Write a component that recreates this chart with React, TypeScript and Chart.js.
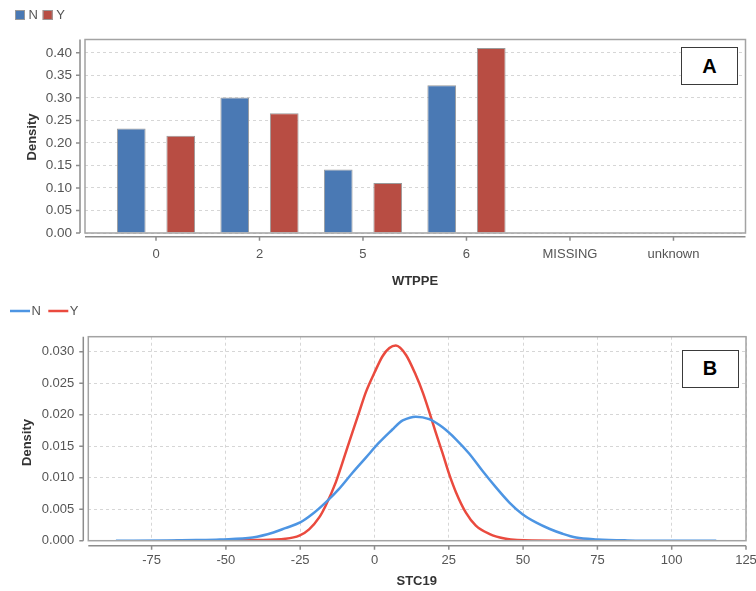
import React, { useEffect, useRef } from 'react';
import { Chart, registerables } from 'chart.js';

Chart.register(...registerables);

// ---------- Chart A data (WTPPE) ----------
const wtppeCategories = ['0', '2', '5', '6', 'MISSING', 'unknown'];
const wtppeN = [0.232, 0.301, 0.141, 0.328, null, null];
const wtppeY = [0.216, 0.266, 0.111, 0.411, null, null];
const wtppeYTicks = [0, 0.05, 0.1, 0.15, 0.2, 0.25, 0.3, 0.35, 0.4];

// ---------- Chart B data (STC19 density) ----------
const stcNx = [-87, -70, -60, -52, -41, -34, -30, -25, -21, -16.4, -12, -7.4, -2.9, 1.6, 6.1, 8.3, 9.5, 13.9, 18.4, 22.9, 27.4, 31.9, 36.3, 40.8, 45.3, 49.8, 54.3, 58.8, 63.3, 67.8, 75, 85, 100, 115];
const stcNy = [0, 0.00003, 0.0001, 0.0002, 0.0005, 0.0013, 0.002, 0.0029, 0.0042, 0.0061, 0.0082, 0.0108, 0.0132, 0.0156, 0.0177, 0.0187, 0.0191, 0.0197, 0.0193, 0.018, 0.0161, 0.0138, 0.0111, 0.0085, 0.0061, 0.0042, 0.0029, 0.0019, 0.0011, 0.0005, 0.0002, 0.00005, 0, 0];
const stcYx = [-67, -50, -40, -30, -25.3, -22, -18.6, -16.4, -13, -9.6, -7.3, -5.1, -2.9, 0, 2.7, 5, 7.2, 10.6, 13.9, 16.2, 18.4, 20.6, 22.9, 25.1, 27.4, 30.7, 34.1, 38.6, 44.2, 48, 60, 82];
const stcYy = [0, 0.00002, 0.0001, 0.0003, 0.0008, 0.0018, 0.0037, 0.0056, 0.0093, 0.0141, 0.0174, 0.0205, 0.0236, 0.0267, 0.0293, 0.0306, 0.031, 0.0295, 0.0263, 0.0236, 0.0205, 0.0172, 0.0139, 0.0106, 0.0077, 0.0045, 0.0024, 0.0011, 0.0003, 0.0001, 0, 0];
const stcXTicks = [-75, -50, -25, 0, 25, 50, 75, 100, 125];
const stcYTicks = [0, 0.005, 0.01, 0.015, 0.02, 0.025, 0.03];

const FONT = "'Liberation Sans', Arial, sans-serif";

type LegendItem = { label: string; color: string; kind: 'box' | 'line' };

function decorPlugin(cfg: {
  yGap: number;
  xGap: number;
  yTitle: string;
  yTitlePos: [number, number];
  xTitle: string;
  xTitlePos: [number, number];
  legend: LegendItem[];
  legendPos: number[];
  legendY: number;
}) {
  return {
    id: 'decor',
    afterDraw(chart: any) {
      const { ctx, chartArea: a, scales } = chart;
      ctx.save();
      // plot outline
      ctx.strokeStyle = '#a3a3a3';
      ctx.lineWidth = 1.5;
      ctx.strokeRect(a.left, a.top, a.right - a.left, a.bottom - a.top);
      // offset axes
      ctx.strokeStyle = '#8c8c8c';
      ctx.lineWidth = 1.5;
      const yx = a.left - cfg.yGap;
      ctx.beginPath();
      ctx.moveTo(yx, a.top);
      ctx.lineTo(yx, a.bottom);
      scales.y.ticks.forEach((t: any) => {
        const py = scales.y.getPixelForValue(t.value);
        ctx.moveTo(yx - 4, py);
        ctx.lineTo(yx, py);
      });
      const xy = a.bottom + cfg.xGap;
      ctx.moveTo(a.left, xy);
      ctx.lineTo(a.right, xy);
      scales.x.ticks.forEach((t: any) => {
        const px = scales.x.getPixelForValue(t.value);
        ctx.moveTo(px, xy);
        ctx.lineTo(px, xy + 4);
      });
      ctx.stroke();
      // titles
      ctx.fillStyle = '#333';
      ctx.font = `bold 13px ${FONT}`;
      ctx.textAlign = 'center';
      ctx.textBaseline = 'middle';
      ctx.fillText(cfg.xTitle, cfg.xTitlePos[0], cfg.xTitlePos[1]);
      ctx.save();
      ctx.translate(cfg.yTitlePos[0], cfg.yTitlePos[1]);
      ctx.rotate(-Math.PI / 2);
      ctx.fillText(cfg.yTitle, 0, 0);
      ctx.restore();
      // legend
      ctx.font = `13px ${FONT}`;
      ctx.textAlign = 'left';
      cfg.legend.forEach((item, i) => {
        const x = cfg.legendPos[i];
        const y = cfg.legendY;
        if (item.kind === 'box') {
          ctx.fillStyle = item.color;
          ctx.fillRect(x, y - 5, 10, 10);
          ctx.strokeStyle = '#999';
          ctx.lineWidth = 1;
          ctx.strokeRect(x + 0.5, y - 4.5, 9, 9);
          ctx.fillStyle = '#555';
          ctx.fillText(item.label, x + 13.5, y + 0.5);
        } else {
          ctx.strokeStyle = item.color;
          ctx.lineWidth = 2.5;
          ctx.beginPath();
          ctx.moveTo(x, y);
          ctx.lineTo(x + 20, y);
          ctx.stroke();
          ctx.fillStyle = '#555';
          ctx.fillText(item.label, x + 21.5, y + 0.5);
        }
      });
      ctx.restore();
    },
  };
}

const BAR_BLUE = '#4a79b4';
const BAR_RED = '#b84d43';
const LINE_BLUE = '#4d95e3';
const LINE_RED = '#ea4a3e';

function BarChartA() {
  const ref = useRef<HTMLCanvasElement>(null);
  useEffect(() => {
    const chart = new Chart(ref.current as HTMLCanvasElement, {
      type: 'bar',
      data: {
        datasets: [
          {
            label: 'N',
            data: wtppeN.map((v, i) => ({ x: i, y: v })) as any,
            backgroundColor: BAR_BLUE,
            borderColor: '#9a9a9a',
            borderWidth: 1,
            categoryPercentage: 0.9565,
            barPercentage: 0.58,
          },
          {
            label: 'Y',
            data: wtppeY.map((v, i) => ({ x: i, y: v })) as any,
            backgroundColor: BAR_RED,
            borderColor: '#9a9a9a',
            borderWidth: 1,
            categoryPercentage: 0.9565,
            barPercentage: 0.58,
          },
        ],
      },
      options: {
        responsive: false,
        animation: false,
        devicePixelRatio: 1,
        layout: { padding: { top: 39.5, right: 10.5, left: 0, bottom: 0 } },
        plugins: { legend: { display: false }, tooltip: { enabled: false } },
        scales: {
          x: {
            type: 'linear',
            offset: false,
            min: -0.686,
            max: 5.696,
            afterFit: (s: any) => {
              s.height = 67;
              s.paddingLeft = 0;
              s.paddingRight = 0;
            },
            afterBuildTicks: (s: any) => {
              s.ticks = wtppeCategories.map((_, i) => ({ value: i }));
            },
            grid: { display: false, drawTicks: false },
            border: { display: false },
            ticks: {
              callback: (v: any) => wtppeCategories[v] ?? '',
              font: { family: FONT, size: 13 },
              color: '#555',
              padding: 14,
              autoSkip: false,
              maxRotation: 0,
            },
          },
          y: {
            min: 0,
            max: 0.4296,
            afterFit: (s: any) => {
              s.width = 85;
            },
            afterBuildTicks: (s: any) => {
              s.ticks = wtppeYTicks.map((v) => ({ value: v }));
            },
            grid: { color: '#d6d6d6', drawTicks: false, lineWidth: 1 },
            border: { display: false, dash: [3, 3] },
            ticks: {
              callback: (v: any) => Number(v).toFixed(2),
              font: { family: FONT, size: 13.5 },
              color: '#555',
              padding: 13,
            },
          },
        },
      } as any,
      plugins: [
        decorPlugin({
          yGap: 5,
          xGap: 3.7,
          yTitle: 'Density',
          yTitlePos: [32, 137],
          xTitle: 'WTPPE',
          xTitlePos: [415, 281],
          legend: [
            { label: 'N', color: BAR_BLUE, kind: 'box' },
            { label: 'Y', color: BAR_RED, kind: 'box' },
          ],
          legendPos: [15, 42.7],
          legendY: 15,
        }) as any,
      ],
    });
    return () => chart.destroy();
  }, []);
  return (
    <canvas
      ref={ref}
      width={756}
      height={300}
      style={{ position: 'absolute', left: 0, top: 0, width: 756, height: 300 }}
    />
  );
}

function LineChartB() {
  const ref = useRef<HTMLCanvasElement>(null);
  useEffect(() => {
    const chart = new Chart(ref.current as HTMLCanvasElement, {
      type: 'line',
      data: {
        datasets: [
          {
            label: 'N',
            data: stcNx.map((x, i) => ({ x, y: stcNy[i] })),
            borderColor: LINE_BLUE,
            borderWidth: 2.5,
            pointRadius: 0,
            cubicInterpolationMode: 'monotone',
            fill: false,
          },
          {
            label: 'Y',
            data: stcYx.map((x, i) => ({ x, y: stcYy[i] })),
            borderColor: LINE_RED,
            borderWidth: 2.5,
            pointRadius: 0,
            cubicInterpolationMode: 'monotone',
            fill: false,
          },
        ],
      },
      options: {
        responsive: false,
        animation: false,
        devicePixelRatio: 1,
        layout: { padding: { top: 36.7, right: 10, left: 0, bottom: 0 } },
        plugins: { legend: { display: false }, tooltip: { enabled: false } },
        scales: {
          x: {
            type: 'linear',
            min: -96.3,
            max: 125,
            afterFit: (s: any) => {
              s.height = 50.3;
              s.paddingLeft = 0;
              s.paddingRight = 0;
            },
            afterBuildTicks: (s: any) => {
              s.ticks = stcXTicks.map((v) => ({ value: v }));
            },
            grid: { color: '#d6d6d6', drawTicks: false },
            border: { display: false, dash: [3, 3] },
            ticks: {
              callback: (v: any) => String(v),
              font: { family: FONT, size: 13 },
              color: '#555',
              padding: 12,
              autoSkip: false,
              maxRotation: 0,
            },
          },
          y: {
            min: 0,
            max: 0.0324,
            afterFit: (s: any) => {
              s.width = 88.3;
            },
            afterBuildTicks: (s: any) => {
              s.ticks = stcYTicks.map((v) => ({ value: v }));
            },
            grid: { color: '#d6d6d6', drawTicks: false },
            border: { display: false, dash: [3, 3] },
            ticks: {
              callback: (v: any) => Number(v).toFixed(3),
              font: { family: FONT, size: 13 },
              color: '#555',
              padding: 14,
            },
          },
        },
      } as any,
      plugins: [
        decorPlugin({
          yGap: 5,
          xGap: 5,
          yTitle: 'Density',
          yTitlePos: [27.5, 142.5],
          xTitle: 'STC19',
          xTitlePos: [416.7, 281.7],
          legend: [
            { label: 'N', color: LINE_BLUE, kind: 'line' },
            { label: 'Y', color: LINE_RED, kind: 'line' },
          ],
          legendPos: [10, 48.3],
          legendY: 11,
        }) as any,
      ],
    });
    return () => chart.destroy();
  }, []);
  return (
    <canvas
      ref={ref}
      width={756}
      height={291}
      style={{ position: 'absolute', left: 0, top: 300, width: 756, height: 291 }}
    />
  );
}

const boxStyle: React.CSSProperties = {
  position: 'absolute',
  width: 55,
  height: 36,
  border: '1.5px solid #3a3a3a',
  background: '#fff',
  display: 'flex',
  alignItems: 'center',
  justifyContent: 'center',
  fontFamily: FONT,
  fontWeight: 'bold',
  fontSize: 20,
  color: '#000',
};

export default function App() {
  return (
    <div
      style={{
        position: 'fixed',
        left: 0,
        top: 0,
        width: 756,
        height: 591,
        background: '#fff',
        overflow: 'hidden',
      }}
    >
      <BarChartA />
      <LineChartB />
      <div style={{ ...boxStyle, left: 681, top: 47 }}>A</div>
      <div style={{ ...boxStyle, left: 681.5, top: 349.5 }}>B</div>
    </div>
  );
}
